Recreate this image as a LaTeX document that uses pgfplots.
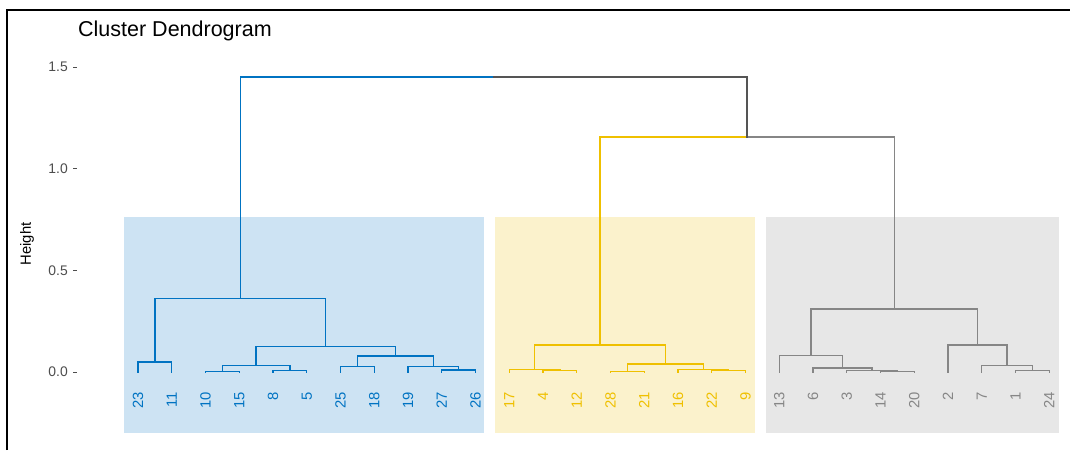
\documentclass[border=0pt]{standalone}
\usepackage{fontspec}
\setmainfont{Liberation Sans}
\usepackage{pgfplots}
\pgfplotsset{compat=1.18}
\definecolor{cblue}{HTML}{0073C2}
\definecolor{cyel}{HTML}{EFC000}
\definecolor{cgray}{HTML}{868686}
\definecolor{croot}{HTML}{555555}
\definecolor{rblue}{HTML}{CDE3F3}
\definecolor{ryel}{HTML}{FBF2CC}
\definecolor{rgray}{HTML}{E7E7E7}
\definecolor{tickc}{HTML}{4D4D4D}
\tikzset{lbl/.style={rotate=90, anchor=east, inner sep=0pt, font=\fontsize{14.8}{17}\selectfont}}
\begin{document}
\begin{tikzpicture}[x=1pt,y=1pt]
\useasboundingbox (0,0) rectangle (1070,450);
\begin{axis}[
  at={(77pt,12.94pt)}, anchor=south west,
  scale only axis, width=990pt, height=390.4pt,
  xmin=-0.807, xmax=28.526, ymin=-0.32, ymax=1.6,
  axis line style={draw=none},
  xtick=\empty,
  ytick={0,0.5,1,1.5},
  ytick pos=left, tick align=outside,
  major tick length=4pt,
  ytick style={tickc, line width=0.9pt},
  yticklabel style={anchor=east, inner sep=0pt, xshift=-5pt, text=tickc, font=\fontsize{13.9}{16}\selectfont},
  clip=false,
  every axis plot/.append style={line width=1.35pt, line join=miter, line cap=rect},
  /pgf/number format/.cd, fixed, fixed zerofill, precision=1, assume math mode=true,
]
% cluster rectangles
\addplot[draw=none, fill=rblue] coordinates {(0.585,-0.302) (11.26,-0.302) (11.26,0.764) (0.585,0.764)} -- cycle;
\addplot[draw=none, fill=ryel] coordinates {(11.58,-0.302) (19.28,-0.302) (19.28,0.764) (11.58,0.764)} -- cycle;
\addplot[draw=none, fill=rgray] coordinates {(19.61,-0.302) (28.30,-0.302) (28.30,0.764) (19.61,0.764)} -- cycle;
% blue cluster
\addplot[cblue] coordinates {(1,0) (1,0.050) (2,0.050) (2,0)};
\addplot[cblue] coordinates {(3,0) (3,0.002) (4,0.002) (4,0)};
\addplot[cblue] coordinates {(5,0) (5,0.008) (6,0.008) (6,0)};
\addplot[cblue] coordinates {(3.5,0.002) (3.5,0.033) (5.5,0.033) (5.5,0.008)};
\addplot[cblue] coordinates {(7,0) (7,0.026) (8,0.026) (8,0)};
\addplot[cblue] coordinates {(10,0) (10,0.010) (11,0.010) (11,0)};
\addplot[cblue] coordinates {(9,0) (9,0.026) (10.5,0.026) (10.5,0.010)};
\addplot[cblue] coordinates {(7.5,0.026) (7.5,0.079) (9.75,0.079) (9.75,0.026)};
\addplot[cblue] coordinates {(4.5,0.033) (4.5,0.126) (8.625,0.126) (8.625,0.079)};
\addplot[cblue] coordinates {(1.5,0.050) (1.5,0.362) (6.5625,0.362) (6.5625,0.126)};
% yellow cluster
\addplot[cyel] coordinates {(13,0) (13,0.007) (14,0.007) (14,0)};
\addplot[cyel] coordinates {(12,0) (12,0.013) (13.5,0.013) (13.5,0.007)};
\addplot[cyel] coordinates {(15,0) (15,0.002) (16,0.002) (16,0)};
\addplot[cyel] coordinates {(18,0) (18,0.007) (19,0.007) (19,0)};
\addplot[cyel] coordinates {(17,0) (17,0.013) (18.5,0.013) (18.5,0.007)};
\addplot[cyel] coordinates {(15.5,0.002) (15.5,0.039) (17.75,0.039) (17.75,0.013)};
\addplot[cyel] coordinates {(12.75,0.013) (12.75,0.133) (16.625,0.133) (16.625,0.039)};
% gray cluster
\addplot[cgray] coordinates {(23,0) (23,0.004) (24,0.004) (24,0)};
\addplot[cgray] coordinates {(22,0) (22,0.007) (23.5,0.007) (23.5,0.004)};
\addplot[cgray] coordinates {(21,0) (21,0.020) (22.75,0.020) (22.75,0.007)};
\addplot[cgray] coordinates {(20,0) (20,0.080) (21.875,0.080) (21.875,0.020)};
\addplot[cgray] coordinates {(27,0) (27,0.007) (28,0.007) (28,0)};
\addplot[cgray] coordinates {(26,0) (26,0.031) (27.5,0.031) (27.5,0.007)};
\addplot[cgray] coordinates {(25,0) (25,0.133) (26.75,0.133) (26.75,0.031)};
\addplot[cgray] coordinates {(20.9375,0.080) (20.9375,0.310) (25.875,0.310) (25.875,0.133)};
% upper merges
\addplot[cyel] coordinates {(14.6875,0.133) (14.6875,1.156) (19.046875,1.156)};
\addplot[cgray] coordinates {(19.046875,1.156) (23.40625,1.156) (23.40625,0.310)};
\addplot[cblue] coordinates {(4.03125,0.362) (4.03125,1.451) (11.5390625,1.451)};
\addplot[croot] coordinates {(11.5390625,1.451) (19.046875,1.451) (19.046875,1.156)};
% leaf labels
\node[lbl, text=cblue] at (axis cs:1,-0.097) {23};
\node[lbl, text=cblue] at (axis cs:2,-0.097) {11};
\node[lbl, text=cblue] at (axis cs:3,-0.097) {10};
\node[lbl, text=cblue] at (axis cs:4,-0.097) {15};
\node[lbl, text=cblue] at (axis cs:5,-0.097) {8};
\node[lbl, text=cblue] at (axis cs:6,-0.097) {5};
\node[lbl, text=cblue] at (axis cs:7,-0.097) {25};
\node[lbl, text=cblue] at (axis cs:8,-0.097) {18};
\node[lbl, text=cblue] at (axis cs:9,-0.097) {19};
\node[lbl, text=cblue] at (axis cs:10,-0.097) {27};
\node[lbl, text=cblue] at (axis cs:11,-0.097) {26};
\node[lbl, text=cyel] at (axis cs:12,-0.097) {17};
\node[lbl, text=cyel] at (axis cs:13,-0.097) {4};
\node[lbl, text=cyel] at (axis cs:14,-0.097) {12};
\node[lbl, text=cyel] at (axis cs:15,-0.097) {28};
\node[lbl, text=cyel] at (axis cs:16,-0.097) {21};
\node[lbl, text=cyel] at (axis cs:17,-0.097) {16};
\node[lbl, text=cyel] at (axis cs:18,-0.097) {22};
\node[lbl, text=cyel] at (axis cs:19,-0.097) {9};
\node[lbl, text=cgray] at (axis cs:20,-0.097) {13};
\node[lbl, text=cgray] at (axis cs:21,-0.097) {6};
\node[lbl, text=cgray] at (axis cs:22,-0.097) {3};
\node[lbl, text=cgray] at (axis cs:23,-0.097) {14};
\node[lbl, text=cgray] at (axis cs:24,-0.097) {20};
\node[lbl, text=cgray] at (axis cs:25,-0.097) {2};
\node[lbl, text=cgray] at (axis cs:26,-0.097) {7};
\node[lbl, text=cgray] at (axis cs:27,-0.097) {1};
\node[lbl, text=cgray] at (axis cs:28,-0.097) {24};
\end{axis}
% title and axis title
\node[anchor=base west, inner sep=0pt, font=\fontsize{21.5}{25}\selectfont] at (78,413.3) {Cluster Dendrogram};
\node[rotate=90, inner sep=0pt, font=\fontsize{14.8}{17}\selectfont] at (27,206) {Height};
% outer frame
\draw[line width=2pt, black] (7,0) -- (7,440) -- (1070,440);
\end{tikzpicture}
\end{document}
